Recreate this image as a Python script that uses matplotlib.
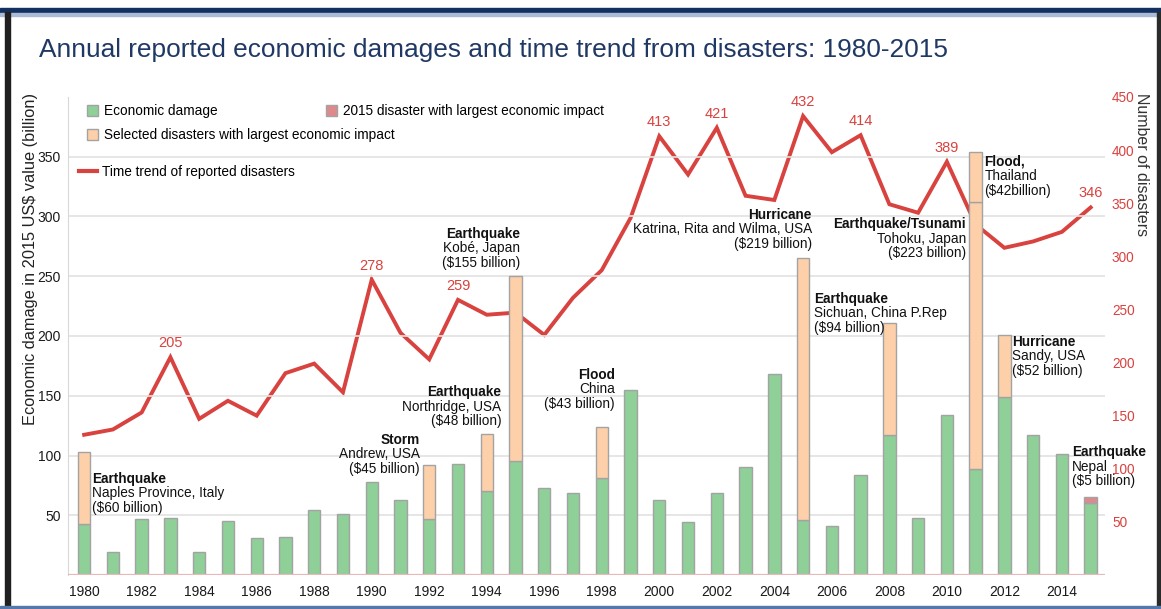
import numpy as np
import matplotlib.pyplot as plt
from matplotlib.patches import Patch, Rectangle
from matplotlib.lines import Line2D

plt.rcParams['font.family'] = ['Liberation Sans', 'DejaVu Sans']

years = np.arange(1980, 2016)

# annual economic damage, billion 2015 US$ (excluding highlighted events)
damage = [43, 19, 47, 48, 19, 45, 31, 32, 54, 51,
          78, 63, 47, 93, 70, 95, 73, 69, 81, 155,
          63, 44, 69, 90, 168, 46, 41, 84, 117, 48,
          134, 89, 149, 117, 101, 60]

# number of reported disasters per year
disasters = [132, 137, 153, 205, 147, 164, 150, 190, 199, 172,
             278, 228, 203, 259, 245, 247, 226, 261, 287, 336,
             413, 377, 421, 357, 353, 432, 398, 414, 349, 341,
             389, 330, 308, 314, 323, 346]
labelled_years = [1983, 1990, 1993, 2000, 2002, 2005, 2007, 2010, 2015]

# selected disasters with largest economic impact, stacked on the annual bar
big_years = [1980, 1992, 1994, 1995, 1998, 2005, 2008, 2011, 2011, 2012]
big_values = [60, 45, 48, 155, 43, 219, 94, 223, 42, 52]
nepal_year, nepal_value = 2015, 5

# (year, y, alignment, type, rest of text)
notes = [
    (1980.28, 77, 'left', 'Earthquake', 'Naples Province, Italy\n($60 billion)'),
    (1991.68, 110, 'right', 'Storm', 'Andrew, USA\n($45 billion)'),
    (1994.5, 149.5, 'right', 'Earthquake', 'Northridge, USA\n($48 billion)'),
    (1995.16, 282, 'right', 'Earthquake', 'Kobé, Japan\n($155 billion)'),
    (1998.46, 164, 'right', 'Flood', 'China\n($43 billion)'),
    (2005.31, 298, 'right', 'Hurricane', 'Katrina, Rita and Wilma, USA\n($219 billion)'),
    (2005.38, 228, 'left', 'Earthquake', 'Sichuan, China P.Rep\n($94 billion)'),
    (2010.67, 290, 'right', 'Earthquake/Tsunami', 'Tohoku, Japan\n($223 billion)'),
    (2011.3, 342.5, 'left', 'Flood,', 'Thailand\n($42billion)'),
    (2012.27, 192, 'left', 'Hurricane', 'Sandy, USA\n($52 billion)'),
    (2014.35, 99.4, 'left', 'Earthquake', 'Nepal\n($5 billion)'),
]

GREEN = '#8fcf98'
ORANGE = '#fdd0aa'
PINK = '#de8a8c'
RED = '#d8423f'
EDGE = '#a3a3a3'
FS = 9.8

fig = plt.figure(figsize=(11.61, 6.09), dpi=100)
ax = fig.add_axes([0.0586, 0.0558, 0.8932, 0.785])
ax2 = ax.twinx()
# bars sit on top of the trend line
ax.set_zorder(ax2.get_zorder() + 1)
ax.patch.set_visible(False)

w = 0.43
ax.bar(years, damage, width=w, color=GREEN, edgecolor=EDGE, linewidth=1, zorder=3)
base = {y: d for y, d in zip(years, damage)}
for y, v in zip(big_years, big_values):
    ax.bar(y, v, bottom=base[y], width=w, color=ORANGE, edgecolor=EDGE, linewidth=1, zorder=3)
    base[y] += v
ax.bar(nepal_year, nepal_value, bottom=base[nepal_year], width=w, color=PINK,
       edgecolor=EDGE, linewidth=1, zorder=3)

ax.set_xlim(1979.44, 2015.5)
ax.set_ylim(0, 400)
ax.set_yticks(range(50, 351, 50))
ax.set_xticks(range(1980, 2015, 2))
ax.grid(axis='y', color='#e2e2e2', linewidth=1.2, zorder=0)
ax.axhline(0, color='#eab8b8', linewidth=1.6, zorder=4)
ax.tick_params(axis='both', length=0, labelsize=10, colors='#1a1a1a')
ax.tick_params(axis='x', pad=7)
ax.tick_params(axis='y', pad=5)
for s in ['top', 'right', 'bottom']:
    ax.spines[s].set_visible(False)
ax.spines['left'].set_color('#d8d8d8')

ax2.plot(years, disasters, color=RED, linewidth=2.8, solid_joinstyle='miter', zorder=2)
ax2.set_ylim(0, 450)
ax2.set_yticks(range(50, 451, 50))
ax2.tick_params(axis='y', length=0, labelsize=9.8, labelcolor=RED, pad=5)
for s in ax2.spines.values():
    s.set_visible(False)
for y, n in zip(years, disasters):
    if y in labelled_years:
        ax2.annotate(str(n), (y, n), xytext=(0, 5), textcoords='offset points',
                     ha='center', va='bottom', fontsize=10.5, color=RED)

for x, y, ha, kind, rest in notes:
    ax.annotate(kind, (x, y), ha=ha, va='baseline', fontsize=FS,
                fontweight='bold', color='#111111', zorder=6)
    ax.annotate(rest, (x, y), xytext=(0, -2.5), textcoords='offset points',
                ha=ha, va='top', fontsize=FS, color='#111111',
                linespacing=1.05, zorder=6)

leg_kw = dict(frameon=False, fontsize=FS, borderpad=0, borderaxespad=0,
              handlelength=0.8, handleheight=0.8, handletextpad=0.45)
leg1 = ax.legend(handles=[Patch(facecolor=GREEN, edgecolor=EDGE, label='Economic damage'),
                          Patch(facecolor=ORANGE, edgecolor=EDGE,
                                label='Selected disasters with largest economic impact')],
                 loc='upper left', bbox_to_anchor=(0.018, 0.985), labelspacing=0.75, **leg_kw)
leg2 = ax.legend(handles=[Patch(facecolor=PINK, edgecolor=EDGE,
                                label='2015 disaster with largest economic impact')],
                 loc='upper left', bbox_to_anchor=(0.249, 0.985), **leg_kw)
ax.add_artist(leg1)
ax.add_artist(leg2)
leg3 = ax.legend(handles=[Line2D([], [], color=RED, linewidth=3,
                                 label='Time trend of reported disasters')],
                 loc='upper left', bbox_to_anchor=(0.011, 0.858), frameon=False,
                 fontsize=FS, borderpad=0, borderaxespad=0, handlelength=1.3,
                 handletextpad=0.35)

fig.text(0.034, 0.918, 'Annual reported economic damages and time trend from disasters: 1980-2015',
         fontsize=18.9, color='#1f3864', va='center', ha='left')
fig.text(0.026, 0.848, 'Economic damage in 2015 US$ value (billion)', rotation=90,
         ha='center', va='top', fontsize=11.8, color='#222222')
fig.text(0.9835, 0.848, 'Number of disasters', rotation=270,
         ha='center', va='top', fontsize=11.5, color='#333333')

# page frame
fig.add_artist(Rectangle((0.0, 0.978), 1.0, 0.009, transform=fig.transFigure,
                         color='#14305e', zorder=10))
fig.add_artist(Rectangle((0.0, 0.973), 1.0, 0.005, transform=fig.transFigure,
                         color='#a9bbd6', zorder=10))
fig.add_artist(Rectangle((0.004, 0.0), 0.0045, 0.98, transform=fig.transFigure,
                         color='#202020', zorder=10))
fig.add_artist(Rectangle((0.9965, 0.0), 0.0035, 0.98, transform=fig.transFigure,
                         color='#2a2a2a', zorder=10))
fig.add_artist(Rectangle((0.0, 0.0), 1.0, 0.005, transform=fig.transFigure,
                         color='#5577aa', zorder=10))

fig.savefig('out.png', dpi=100)
